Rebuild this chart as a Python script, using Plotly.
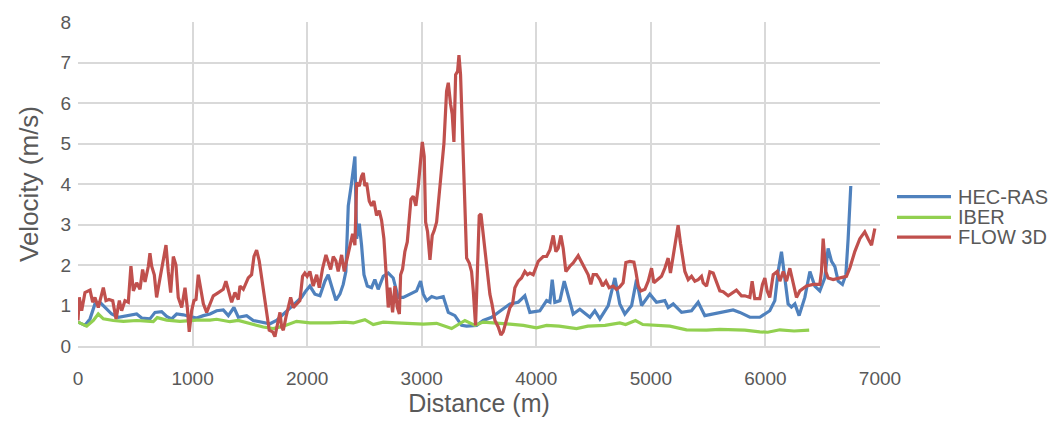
import plotly.graph_objects as go

# HEC-RAS
hec_x = [0, 61, 105, 148, 192, 235, 294, 352, 396, 454, 512, 556, 628, 672, 730, 774, 817, 861, 919, 977,
         1036, 1094, 1152, 1210, 1268, 1312, 1361, 1399, 1472, 1530, 1617, 1675, 1733, 1792, 1850, 1908, 1951, 1989,
         2024, 2068, 2112, 2155, 2184, 2213, 2251, 2286, 2315, 2338, 2359, 2388, 2417, 2432, 2455, 2475, 2496, 2525,
         2562, 2591, 2620, 2664, 2708, 2751, 2795, 2839, 2897, 2955, 2990, 3014, 3043, 3087, 3130, 3188, 3232, 3290,
         3348, 3392, 3479, 3537, 3610, 3683, 3770, 3842, 3900, 3944, 4002, 4031, 4090, 4119, 4139, 4162, 4206, 4244,
         4322, 4380, 4468, 4511, 4555, 4628, 4686, 4729, 4773, 4832, 4875, 4919, 4991, 5049, 5122, 5151, 5195, 5268,
         5355, 5413, 5471, 5602, 5718, 5777, 5864, 5951, 6038, 6082, 6111, 6140, 6163, 6198, 6227, 6257, 6294, 6344,
         6388, 6431, 6475, 6518, 6547, 6577, 6606, 6635, 6672, 6702, 6722, 6745]
hec_v = [0.59, 0.51, 0.67, 1.04, 1.08, 0.95, 0.79, 0.71, 0.73, 0.75, 0.79, 0.69, 0.67, 0.83, 0.85, 0.73, 0.67, 0.79, 0.77, 0.73,
         0.69, 0.75, 0.79, 0.87, 0.89, 0.75, 0.95, 0.71, 0.75, 0.63, 0.57, 0.55, 0.63, 0.79, 0.95, 1.08, 1.20, 1.36,
         1.48, 1.28, 1.24, 1.60, 1.76, 1.48, 1.13, 1.28, 1.52, 1.84, 3.46, 4.03, 4.68, 2.65, 3.02, 2.49, 1.76, 1.48,
         1.44, 1.64, 1.40, 1.72, 1.80, 1.68, 1.20, 1.20, 1.28, 1.36, 1.60, 1.28, 1.12, 1.22, 1.18, 1.22, 0.83, 0.75,
         0.51, 0.49, 0.51, 0.63, 0.71, 0.87, 1.04, 1.08, 1.24, 0.83, 0.85, 0.87, 1.12, 1.08, 1.64, 1.08, 1.12, 1.60,
         0.79, 0.91, 0.71, 0.87, 0.67, 1.00, 1.68, 1.04, 0.79, 1.00, 1.64, 1.00, 1.28, 1.08, 1.12, 0.95, 1.04, 0.83,
         0.87, 1.08, 0.75, 0.83, 0.89, 0.83, 0.71, 0.71, 0.87, 1.12, 1.84, 2.33, 1.84, 1.04, 0.96, 1.04, 0.75, 1.20,
         1.84, 1.48, 1.36, 1.68, 2.41, 2.09, 1.96, 1.60, 1.52, 1.76, 2.65, 3.95]

# IBER
iber_x = [0, 76, 134, 177, 221, 308, 396, 512, 657, 692, 774, 890, 1036, 1152, 1210, 1326, 1399, 1472, 1617, 1704,
          1792, 1908, 2024, 2199, 2330, 2403, 2504, 2577, 2664, 2780, 3014, 3130, 3261, 3377, 3465, 3537, 3654, 3770,
          3887, 4002, 4090, 4200, 4351, 4450, 4600, 4729, 4780, 4866, 4930, 5166, 5311, 5486, 5602, 5820, 5951, 6020,
          6126, 6250, 6382]
iber_v = [0.59, 0.49, 0.63, 0.79, 0.67, 0.63, 0.61, 0.63, 0.60, 0.70, 0.64, 0.61, 0.64, 0.64, 0.66, 0.60, 0.63, 0.57, 0.47, 0.43,
          0.49, 0.61, 0.57, 0.57, 0.59, 0.57, 0.65, 0.53, 0.59, 0.57, 0.54, 0.56, 0.43, 0.63, 0.51, 0.59, 0.57, 0.54,
          0.51, 0.45, 0.51, 0.49, 0.43, 0.49, 0.51, 0.57, 0.53, 0.63, 0.53, 0.49, 0.40, 0.39, 0.41, 0.39, 0.35, 0.34,
          0.40, 0.37, 0.39]

# FLOW 3D
flow_x = [0, 11, 32, 61, 105, 128, 148, 177, 221, 244, 270, 303, 332, 361, 381, 410, 439, 462, 483, 512, 541, 564,
          585, 614, 628, 643, 666, 686, 716, 744, 768, 788, 809, 832, 855, 875, 905, 934, 954, 971, 992, 1012, 1030,
          1050, 1073, 1094, 1123, 1152, 1181, 1225, 1268, 1291, 1320, 1341, 1370, 1399, 1414, 1443, 1486, 1515, 1536,
          1559, 1582, 1603, 1632, 1646, 1669, 1699, 1719, 1742, 1763, 1777, 1792, 1815, 1835, 1856, 1879, 1908, 1937,
          1960, 1980, 2000, 2024, 2053, 2083, 2106, 2135, 2164, 2184, 2205, 2228, 2251, 2271, 2301, 2324, 2344, 2373,
          2397, 2417, 2432, 2455, 2475, 2490, 2504, 2519, 2542, 2562, 2583, 2606, 2629, 2650, 2670, 2688, 2708, 2722,
          2746, 2766, 2787, 2805, 2816, 2833, 2853, 2874, 2891, 2906, 2926, 2949, 2970, 2991, 3005, 3022, 3034, 3051,
          3072, 3092, 3109, 3130, 3159, 3179, 3194, 3217, 3232, 3252, 3266, 3281, 3296, 3313, 3325, 3339, 3357, 3377,
          3392, 3415, 3435, 3450, 3470, 3485, 3502, 3517, 3537, 3558, 3575, 3595, 3613, 3639, 3668, 3691, 3711, 3741,
          3770, 3793, 3813, 3842, 3871, 3900, 3923, 3944, 3973, 4017, 4060, 4090, 4119, 4148, 4171, 4191, 4215, 4235,
          4258, 4293, 4322, 4366, 4409, 4453, 4476, 4497, 4526, 4555, 4579, 4608, 4636, 4671, 4700, 4729, 4758, 4782,
          4817, 4852, 4869, 4890, 4913, 4948, 4977, 5006, 5026, 5064, 5093, 5122, 5151, 5171, 5201, 5224, 5238, 5259,
          5276, 5297, 5326, 5355, 5384, 5413, 5442, 5457, 5486, 5515, 5544, 5573, 5602, 5631, 5675, 5747, 5791, 5820,
          5864, 5884, 5907, 5951, 5974, 5995, 6015, 6038, 6068, 6103, 6126, 6155, 6184, 6213, 6242, 6271, 6300, 6359,
          6417, 6475, 6489, 6504, 6527, 6547, 6591, 6649, 6707, 6736, 6780, 6824, 6867, 6896, 6926, 6955]
flow_v = [0.63, 1.20, 0.87, 1.32, 1.38, 1.08, 1.20, 0.95, 1.44, 1.12, 1.15, 1.12, 0.67, 1.12, 0.87, 1.12, 1.08, 1.97, 1.36, 1.56, 1.40, 1.89,
          1.58, 1.97, 2.29, 1.97, 1.76, 1.20, 1.68, 2.09, 2.49, 1.84, 1.32, 2.21, 2.00, 1.20, 0.95, 1.44, 0.95, 0.35, 0.87, 1.12, 1.15,
          1.76, 1.36, 1.04, 0.83, 1.04, 1.24, 1.32, 1.40, 1.60, 1.28, 1.08, 1.32, 1.15, 1.48, 1.40, 1.68, 1.76, 2.21,
          2.37, 2.10, 1.68, 1.12, 0.71, 0.39, 0.35, 0.23, 0.55, 0.83, 0.47, 0.39, 0.71, 0.95, 1.20, 0.95, 1.04, 1.12,
          1.72, 1.80, 1.72, 1.84, 1.48, 1.76, 1.44, 1.92, 2.25, 2.10, 1.89, 2.21, 2.10, 1.84, 2.25, 1.84, 2.09, 2.49,
          2.77, 2.49, 4.03, 3.95, 4.19, 4.27, 3.95, 4.03, 3.58, 3.46, 3.58, 3.22, 3.34, 3.10, 2.65, 1.84, 0.95, 1.44,
          0.83, 1.48, 0.95, 0.79, 1.76, 1.90, 2.33, 2.57, 3.22, 3.62, 3.70, 3.46, 3.95, 4.51, 5.04, 4.68, 3.06, 2.82,
          2.13, 2.73, 2.85, 3.06, 3.95, 4.35, 5.00, 6.29, 6.50, 5.97, 5.73, 5.04, 6.70, 6.78, 7.18, 6.70, 5.00, 3.38,
          2.17, 2.05, 1.84, 1.36, 0.51, 1.76, 3.22, 3.26, 2.73, 2.17, 1.68, 1.28, 1.04, 0.63, 0.47, 0.27, 0.35, 0.63,
          0.95, 1.04, 1.44, 1.60, 1.68, 1.84, 1.76, 1.80, 1.76, 2.09, 2.21, 2.21, 2.37, 2.73, 2.33, 2.41, 2.73, 2.41,
          1.84, 1.97, 2.05, 2.23, 2.00, 1.76, 1.52, 1.76, 1.76, 1.64, 1.48, 1.60, 1.44, 1.48, 1.40, 1.46, 1.56, 2.06,
          2.09, 2.07, 1.84, 1.48, 1.36, 1.40, 1.60, 1.92, 1.56, 1.64, 1.72, 1.92, 2.17, 1.80, 2.33, 2.73, 2.98, 2.53,
          2.17, 1.84, 1.64, 1.72, 1.60, 1.64, 1.72, 1.56, 1.48, 1.83, 1.80, 1.60, 1.36, 1.34, 1.24, 1.38, 1.24, 1.24,
          1.20, 1.60, 1.17, 1.17, 1.52, 1.68, 1.36, 1.20, 1.76, 1.84, 1.60, 1.84, 1.60, 1.92, 1.60, 1.20, 1.36, 1.48,
          1.52, 1.52, 1.84, 2.65, 1.84, 1.68, 1.64, 1.68, 1.72, 1.92, 2.33, 2.65, 2.82, 2.65, 2.49, 2.90]

series_names = ["HEC-RAS", "IBER", "FLOW 3D"]
x_ticks = [0, 1000, 2000, 3000, 4000, 5000, 6000, 7000]
y_ticks = [0, 1, 2, 3, 4, 5, 6, 7, 8]

colors = ["#4F81BD", "#92D050", "#C0504D"]
FONT = "Liberation Sans, Arial, sans-serif"
TXT = "#595959"

fig = go.Figure()
for name, xs, vs, c in zip(series_names, [hec_x, iber_x, flow_x], [hec_v, iber_v, flow_v], colors):
    fig.add_trace(go.Scatter(x=xs, y=vs, name=name, mode="lines",
                             line=dict(color=c, width=3.2), showlegend=False))

# legend drawn as shapes + text (to match the compact spacing and long keys)
leg_y = [0.461, 0.397, 0.336]
for name, c, ly in zip(series_names, colors, leg_y):
    fig.add_shape(type="line", xref="paper", yref="paper", x0=1.0212, x1=1.0885, y0=ly, y1=ly,
                  line=dict(color=c, width=3.2))
    fig.add_annotation(xref="paper", yref="paper", x=1.0948, y=ly, text=name, showarrow=False,
                       xanchor="left", yanchor="middle", font=dict(size=20, color=TXT, family=FONT))

fig.update_layout(
    width=1057, height=421,
    margin=dict(l=78, r=177, t=16, b=75),
    paper_bgcolor="white", plot_bgcolor="white",
    font=dict(family=FONT, color=TXT),
    showlegend=False,
    xaxis=dict(range=[0, 7000], tickvals=x_ticks, showgrid=True, gridcolor="#D9D9D9", gridwidth=1.5,
               zeroline=False, showline=True, linecolor="#D9D9D9", linewidth=1.5,
               tickfont=dict(size=19, color=TXT), ticks="", ticklabelstandoff=14,
               title=dict(text="Distance (m)", font=dict(size=25, color=TXT), standoff=0)),
    yaxis=dict(range=[0, 8], tickvals=y_ticks, showgrid=True, gridcolor="#D9D9D9", gridwidth=1.5,
               zeroline=False, showline=False,
               tickfont=dict(size=19, color=TXT), ticks="", ticklabelstandoff=6,
               title=dict(text="Velocity (m/s)", font=dict(size=26, color=TXT), standoff=14)),
)

fig.write_html("out.html")
